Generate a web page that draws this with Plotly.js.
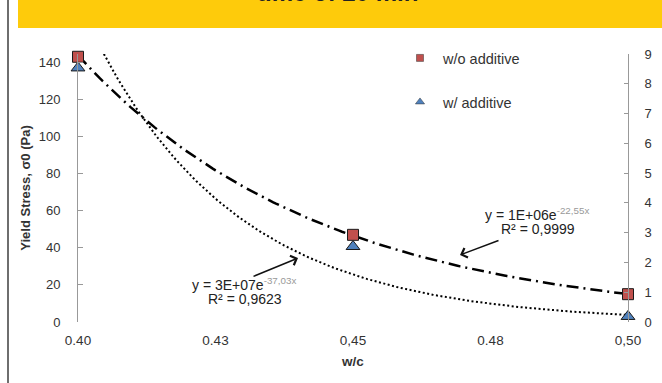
<!DOCTYPE html>
<html>
<head>
<meta charset="utf-8">
<script src="https://cdn.plot.ly/plotly-3.0.1.min.js"></script>
<style>html,body{margin:0;padding:0;background:#fff;}#chart{width:662px;height:383px;}</style>
</head>
<body>
<div id="chart"></div>
<script>
// ---- data ----
const wc = [0.40, 0.45, 0.50];
const withoutAdditive = [143, 47, 15];
const withAdditive = [137, 40.7, 3];
const seriesNames = ["w/o additive", "w/ additive"];
const xTickVals = [0.40, 0.425, 0.45, 0.475, 0.50];
const xTickText = ["0.40", "0.43", "0,45", "0.48", "0,50"];
const yLeftTicks = [0, 20, 40, 60, 80, 100, 120, 140];
const yRightTicks = [0, 1, 2, 3, 4, 5, 6, 7, 8, 9];
const eqWithoutL1 = "y = 1E+06e<sup><span style='color:#999'>-22,55x</span></sup>";
const eqWithoutL2 = "R² = 0,9999";
const eqWithL1 = "y = 3E+07e<sup><span style='color:#999'>-37,03x</span></sup>";
const eqWithL2 = "R² = 0,9623";
const chartTitle = "time of 20 min";

// exponential least-squares trendline (as the spreadsheet does), from the data
function expTrend(xs, ys) {
  const n = xs.length;
  const ly = ys.map(v => Math.log(v));
  const mx = xs.reduce((a, b) => a + b, 0) / n;
  const my = ly.reduce((a, b) => a + b, 0) / n;
  let num = 0, den = 0;
  for (let i = 0; i < n; i++) { num += (xs[i] - mx) * (ly[i] - my); den += (xs[i] - mx) ** 2; }
  const b = num / den, a = Math.exp(my - b * mx);
  const tx = [], ty = [];
  const x0 = Math.min(...xs), x1 = Math.max(...xs);
  for (let i = 0; i <= 200; i++) { const x = x0 + (x1 - x0) * i / 200; tx.push(x); ty.push(a * Math.exp(b * x)); }
  return {x: tx, y: ty};
}
const tWithout = expTrend(wc, withoutAdditive);
const tWith = expTrend(wc, withAdditive);

const font = "Liberation Sans, Arial, sans-serif";
const red = "#C0504D", blue = "#4F81BD";

const traces = [
  {x: tWithout.x, y: tWithout.y, mode: "lines", line: {color: "#000", width: 2.5, dash: "12px,5px,2px,5px"}, showlegend: false, hoverinfo: "skip"},
  {x: tWith.x, y: tWith.y, mode: "lines", line: {color: "#000", width: 2, dash: "2px,2.5px"}, showlegend: false, hoverinfo: "skip"},
  {x: wc, y: withAdditive, mode: "markers", cliponaxis: false, showlegend: false,
   marker: {symbol: "triangle-up", size: 12, color: blue, line: {color: "#1a1a1a", width: 1}}},
  {x: wc, y: withoutAdditive, mode: "markers", cliponaxis: false, showlegend: false,
   marker: {symbol: "square", size: 11, color: red, line: {color: "#1a1a1a", width: 1}}},
  // legend entries
  {x: [null], y: [null], yaxis: "y2", mode: "markers", name: seriesNames[0], legend: "legend",
   marker: {symbol: "square", size: 7, color: red, line: {color: "#333", width: 0.5}}},
  {x: [null], y: [null], yaxis: "y2", mode: "markers", name: seriesNames[1], legend: "legend2",
   marker: {symbol: "triangle-up", size: 8, color: blue, line: {color: "#333", width: 0.5}}}
];

const L = 78, R = 34, T = 54, B = 61;
const ph = 383 - T - B, pw = 662 - L - R;
const py = p => 1 + (T - p) / ph; // pixel y -> paper y
const px = p => (p - L) / pw;     // pixel x -> paper x
const yPerPx = 144.5 / ph;

const eqFont = {size: 14, color: "#222"};
const layout = {
  width: 662, height: 383,
  margin: {l: L, r: R, t: T, b: B, pad: 0},
  paper_bgcolor: "#fff", plot_bgcolor: "#fff",
  font: {family: font, size: 13, color: "#333"},
  xaxis: {
    range: [0.40, 0.50], tickmode: "array", tickvals: xTickVals, ticktext: xTickText,
    showgrid: false, zeroline: false, showline: false, ticks: "",
    tickfont: {size: 13.5, color: "#333"}, ticklabelstandoff: 8,
    title: {text: "<b>w/c</b>", font: {size: 13.5, color: "#333"}, standoff: 10}
  },
  yaxis: {
    range: [0, 144.5], tickmode: "array", tickvals: yLeftTicks,
    showgrid: false, zeroline: false, showline: true, linecolor: "#999", linewidth: 1,
    ticks: "inside", ticklen: 5, tickcolor: "#999",
    tickfont: {size: 13, color: "#333"}, ticklabelstandoff: 14,
    title: {text: "<b>Yield Stress, σ0 (Pa)</b>", font: {size: 13, color: "#333"}, standoff: 5}
  },
  yaxis2: {
    overlaying: "y", side: "right", range: [0, 9], tickmode: "array", tickvals: yRightTicks,
    showgrid: false, zeroline: false, showline: true, linecolor: "#999", linewidth: 1,
    ticks: "inside", ticklen: 4, tickcolor: "#999",
    tickfont: {size: 13, color: "#333"}, ticklabelstandoff: 13
  },
  legend: {x: px(397), y: py(58), xanchor: "left", yanchor: "middle", bgcolor: "rgba(0,0,0,0)",
           font: {size: 14.5, color: "#333"}, itemwidth: 36, itemclick: false},
  legend2: {x: px(397), y: py(102), xanchor: "left", yanchor: "middle", bgcolor: "rgba(0,0,0,0)",
            font: {size: 14.5, color: "#333"}, itemwidth: 36, itemclick: false},
  shapes: [
    {type: "rect", xref: "paper", yref: "paper", x0: px(18), x1: px(662), y0: py(28), y1: py(-2),
     fillcolor: "#FECB0B", line: {width: 0}, layer: "below"},
    {type: "line", xref: "paper", yref: "paper", x0: px(8), x1: px(8), y0: py(385), y1: py(-2),
     line: {color: "#6e6e6e", width: 2}}
  ],
  annotations: [
    {xref: "paper", yref: "paper", x: px(337), y: py(7.5), xanchor: "center", yanchor: "bottom",
     text: "<b>" + chartTitle + "</b>", showarrow: false, font: {size: 24, color: "#222"}},
    {xref: "paper", yref: "paper", x: px(483), y: py(214), xanchor: "left", yanchor: "middle",
     text: eqWithoutL1, showarrow: false, font: eqFont},
    {xref: "paper", yref: "paper", x: px(499), y: py(229), xanchor: "left", yanchor: "middle",
     text: eqWithoutL2, showarrow: false, font: eqFont},
    {xref: "paper", yref: "paper", x: px(190), y: py(284), xanchor: "left", yanchor: "middle",
     text: eqWithL1, showarrow: false, font: eqFont},
    {xref: "paper", yref: "paper", x: px(206), y: py(299), xanchor: "left", yanchor: "middle",
     text: eqWithL2, showarrow: false, font: eqFont},
    {xref: "x", yref: "y", x: 0.4 + (460 - L) / 5500, y: (322 - 255) * yPerPx, text: "",
     showarrow: true, arrowhead: 4, arrowsize: 1.3, arrowwidth: 1.5, arrowcolor: "#111",
     ax: 40, ay: -15, standoff: 0},
    {xref: "x", yref: "y", x: 0.4 + (298 - L) / 5500, y: (322 - 258) * yPerPx, text: "",
     showarrow: true, arrowhead: 4, arrowsize: 1.3, arrowwidth: 1.5, arrowcolor: "#111",
     ax: -46, ay: 19, standoff: 0}
  ]
};

Plotly.newPlot("chart", traces, layout, {staticPlot: true, displayModeBar: false});
</script>
</body>
</html>
